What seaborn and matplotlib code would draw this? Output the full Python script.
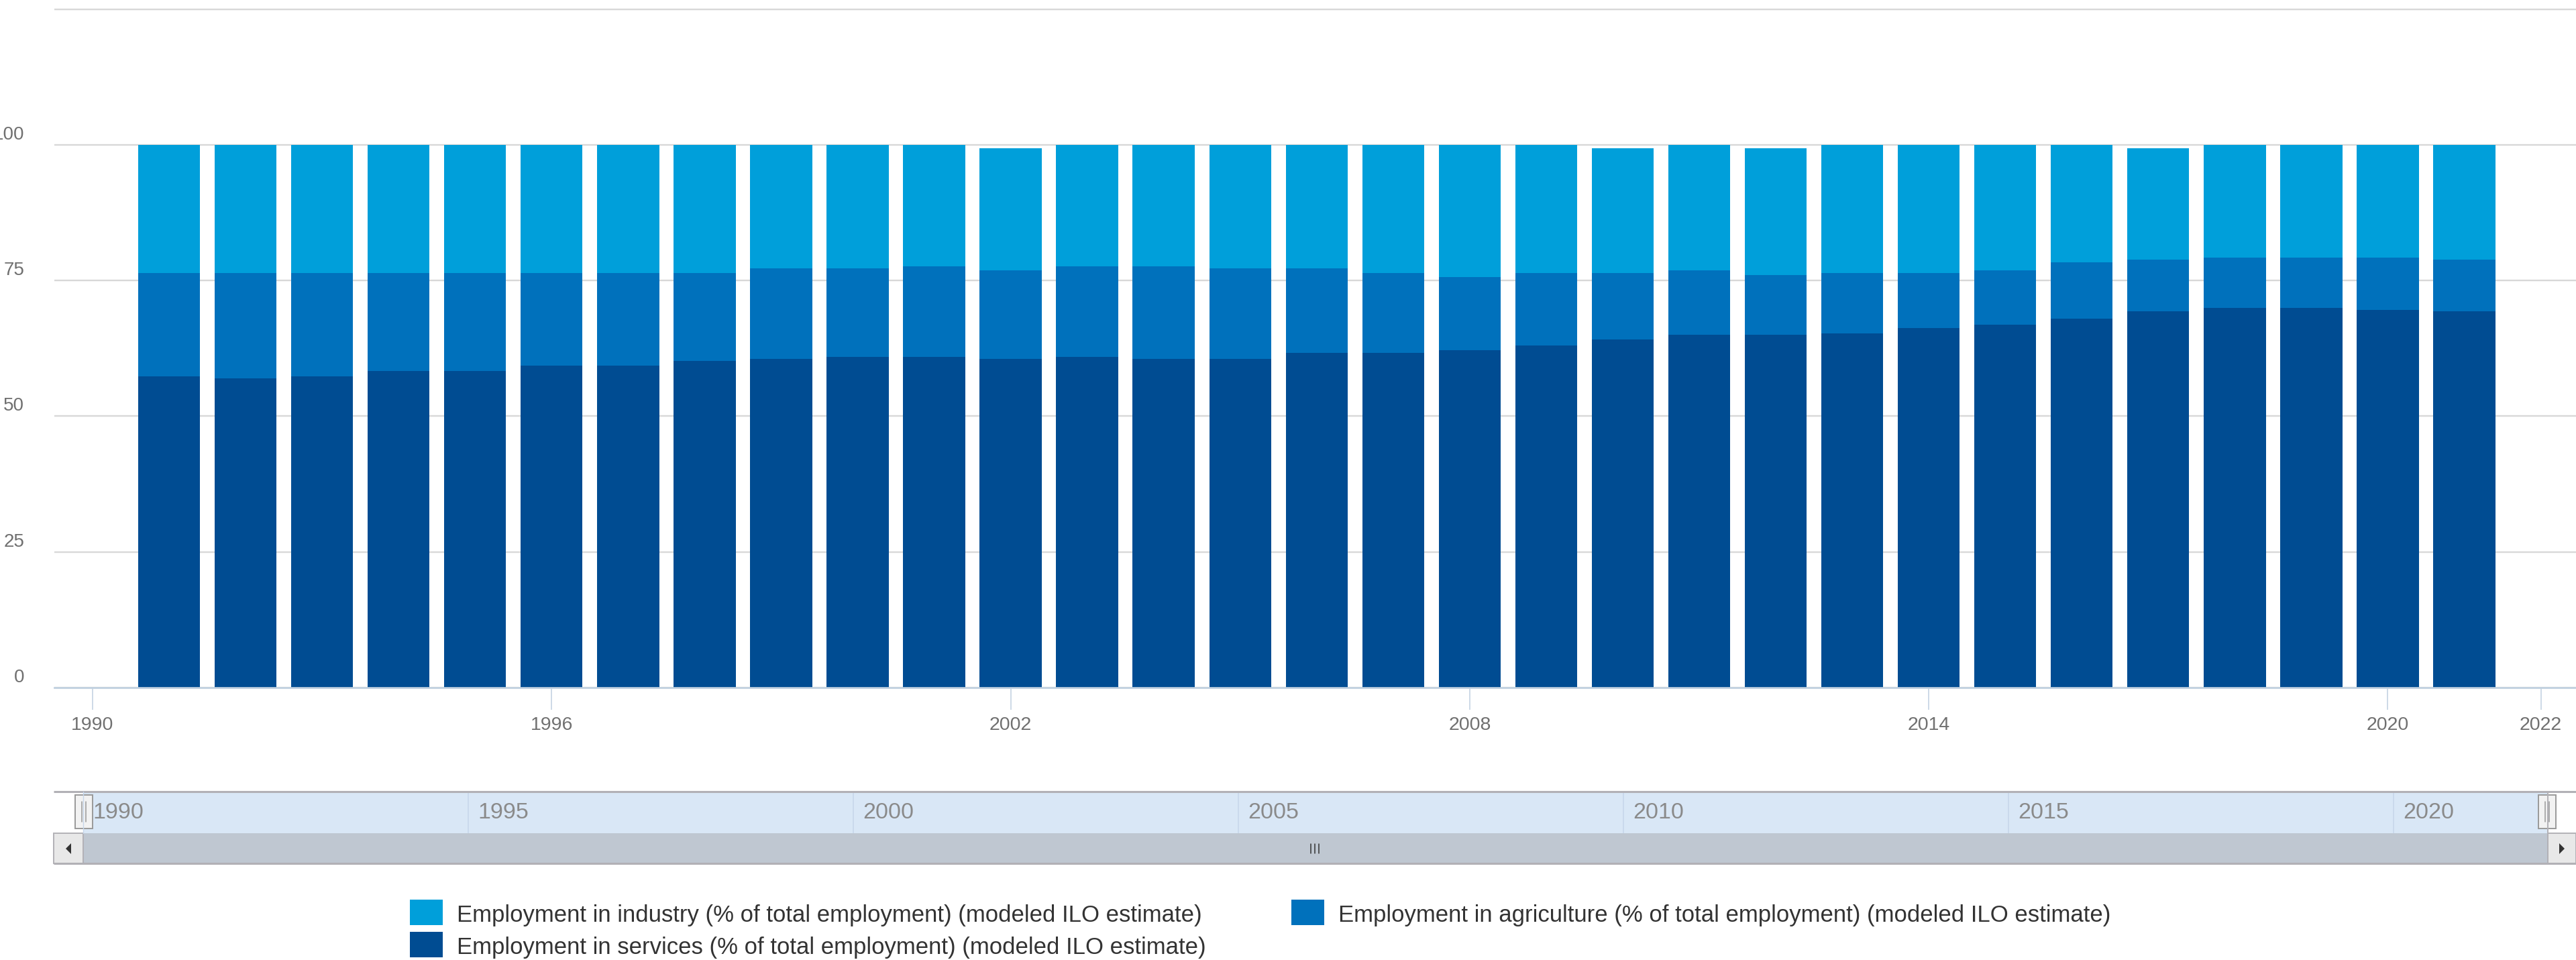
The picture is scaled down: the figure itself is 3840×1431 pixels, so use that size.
import matplotlib
matplotlib.use("Agg")
import matplotlib.pyplot as plt
import matplotlib.transforms as mtransforms
from matplotlib.patches import Rectangle, Polygon
import pandas as pd
import seaborn as sns

# ---- data: sector shares of total employment (%) ----
years = list(range(1991, 2022))
services = [57.4, 57.0, 57.4, 58.3, 58.3, 59.3, 59.3, 60.2, 60.6, 60.9,
            60.9, 60.6, 60.9, 60.6, 60.6, 61.7, 61.7, 62.2, 63.0, 64.2,
            65.0, 65.0, 65.3, 66.2, 66.9, 68.0, 69.3, 70.0, 70.0, 69.6, 69.3]
agriculture = [19.0, 19.4, 19.0, 18.1, 18.1, 17.1, 17.1, 16.2, 16.7, 16.4,
               16.7, 16.3, 16.7, 17.0, 16.7, 15.6, 14.7, 13.4, 13.4, 12.2,
               11.9, 11.0, 11.1, 10.2, 10.0, 10.4, 9.5, 9.2, 9.2, 9.6, 9.5]
industry = [23.6, 23.6, 23.6, 23.6, 23.6, 23.6, 23.6, 23.6, 22.7, 22.7,
            22.4, 22.5, 22.4, 22.4, 22.7, 22.7, 23.6, 24.4, 23.6, 23.0,
            23.1, 23.4, 23.6, 23.6, 23.1, 21.6, 20.6, 20.8, 20.8, 20.8, 21.2]

y_ticks = [0, 25, 50, 75, 100, 125]
y_tick_labels = ["0", "25", "50", "75", "100", ""]
x_ticks = [1990, 1996, 2002, 2008, 2014, 2020, 2022]
nav_ticks = [1990, 1995, 2000, 2005, 2010, 2015, 2020]

label_industry = "Employment in industry (% of total employment) (modeled ILO estimate)"
label_agriculture = "Employment in agriculture (% of total employment) (modeled ILO estimate)"
label_services = "Employment in services (% of total employment) (modeled ILO estimate)"

C_IND = "#009fda"
C_AGR = "#0071bc"
C_SRV = "#004c92"

# ---- figure setup ----
W, H, DPI = 3840, 1431, 100
sns.set_theme(style="white")
plt.rcParams["font.family"] = ["Liberation Sans", "DejaVu Sans"]

fig = plt.figure(figsize=(W / DPI, H / DPI), dpi=DPI)
fig.patch.set_facecolor("white")


def fx(px):
    return px / W


def fy(py):
    return 1 - py / H


# ---- main stacked column chart ----
Y_MAX = 125.5
ax = fig.add_axes([fx(81), fy(1025), 1 - fx(81), (1025 - 9.5) / H])

df = pd.DataFrame({"year": years, "services": services,
                   "agriculture": agriculture, "industry": industry})
df["services_top"] = df["services"]
df["agriculture_top"] = df["services"] + df["agriculture"]
df["industry_top"] = df["agriculture_top"] + df["industry"]

# cumulative tops drawn back to front give the stacked look
for col, color in [("industry_top", C_IND), ("agriculture_top", C_AGR),
                   ("services_top", C_SRV)]:
    sns.barplot(data=df, x="year", y=col, native_scale=True, width=0.81,
                color=color, saturation=1, errorbar=None, linewidth=0, ax=ax)

ax.set_xlim(1989.5, 2022.46)
ax.set_ylim(0, Y_MAX)
ax.set_xlabel("")
ax.set_ylabel("")
ax.set_facecolor("white")
for side in ("left", "right", "top"):
    ax.spines[side].set_visible(False)
ax.spines["bottom"].set_color("#c0d0e0")
ax.spines["bottom"].set_linewidth(1.95)
ax.spines["bottom"].set_zorder(5)

ax.set_yticks(y_ticks)
ax.set_yticklabels(y_tick_labels)
ax.yaxis.grid(True, color="#d8d8d8", linewidth=1.7)
ax.xaxis.grid(False)
ax.set_axisbelow(True)

ax.set_xticks(x_ticks)
ax.set_xticklabels([str(t) for t in x_ticks])

ax.tick_params(axis="y", left=False, length=0, pad=32.4, labelsize=20,
               labelcolor="#707070")
ax.tick_params(axis="x", bottom=True, length=23.8, width=1.1, color="#c0d0e0",
               direction="out", pad=21.6, labelsize=20.5, labelcolor="#707070")

up = mtransforms.ScaledTranslation(0, 8 / DPI, fig.dpi_scale_trans)
for lab in ax.get_yticklabels():
    lab.set_verticalalignment("baseline")
    lab.set_transform(lab.get_transform() + up)
for lab in ax.get_xticklabels():
    lab.set_verticalalignment("baseline")

# ---- navigator band ----
nav = fig.add_axes([fx(124), fy(1242), fx(3798) - fx(124), 61 / H])
nav.set_xlim(1990, 2022)
nav.set_ylim(0, 1)
nav.set_facecolor("#d9e7f6")
for s in nav.spines.values():
    s.set_visible(False)
nav.set_yticks([])
nav.set_xticks(nav_ticks)
nav.xaxis.grid(True, color="#c6d6ea", linewidth=1.1)
nav.tick_params(axis="x", length=0, labelbottom=False)
shift = mtransforms.ScaledTranslation(14 / DPI, 0, fig.dpi_scale_trans)
for t in nav_ticks:
    nav.text(t, 0.5, str(t), transform=nav.get_xaxis_transform() + shift,
             ha="left", va="center", fontsize=24.5, color="#8a8a8a")

# ---- navigator chrome, scrollbar and legend (pixel coordinates) ----
ov = fig.add_axes([0, 0, 1, 1], zorder=5)
ov.set_xlim(0, W)
ov.set_ylim(H, 0)
ov.axis("off")

BORDER = "#b2b1b6"
# scrollbar track and thumb
ov.add_patch(Rectangle((124, 1242), 3798 - 124, 45, facecolor="#bfc7d1",
                       edgecolor="none"))
# arrow buttons
for x0, w, pts in [(80, 44, [(106, 1257), (106, 1273), (98, 1265)]),
                   (3798, 42, [(3815, 1257), (3815, 1273), (3823, 1265)])]:
    ov.add_patch(Rectangle((x0, 1242), w, 45, facecolor="#e8e8e8",
                           edgecolor=BORDER, linewidth=1.4))
    ov.add_patch(Polygon(pts, closed=True, facecolor="#333333",
                         edgecolor="none"))
# outline lines
ov.plot([80, W], [1180, 1180], color=BORDER, lw=2.2, solid_capstyle="butt")
ov.plot([80, W], [1287, 1287], color=BORDER, lw=2.2, solid_capstyle="butt")
ov.plot([3798, 3798], [1180, 1287], color=BORDER, lw=1.4)
ov.plot([124, 124], [1180, 1242], color="#c6d6ea", lw=1.0)
# thumb grip
for gx in (1954, 1960, 1966):
    ov.plot([gx, gx], [1258, 1272], color="#333333", lw=1.1)
# range handles
for hx in (112, 3784):
    ov.add_patch(Rectangle((hx, 1185), 26, 50, facecolor="#f2f2f2",
                           edgecolor="#999999", linewidth=1.4))
    for gx in (hx + 10, hx + 16):
        ov.plot([gx, gx], [1195, 1225], color="#999999", lw=1.1)

# legend
legend_items = [
    (611, 1341, 1374, C_IND, label_industry),
    (1925, 1341, 1374, C_AGR, label_agriculture),
    (611, 1389, 1422, C_SRV, label_services),
]
for sx, sy, base, color, text in legend_items:
    ov.add_patch(Rectangle((sx, sy), 49, 38, facecolor=color, edgecolor="none"))
    ov.text(sx + 70, base, text, ha="left", va="baseline", fontsize=25,
            color="#333333")

fig.savefig("out.png", dpi=DPI, facecolor="white")
